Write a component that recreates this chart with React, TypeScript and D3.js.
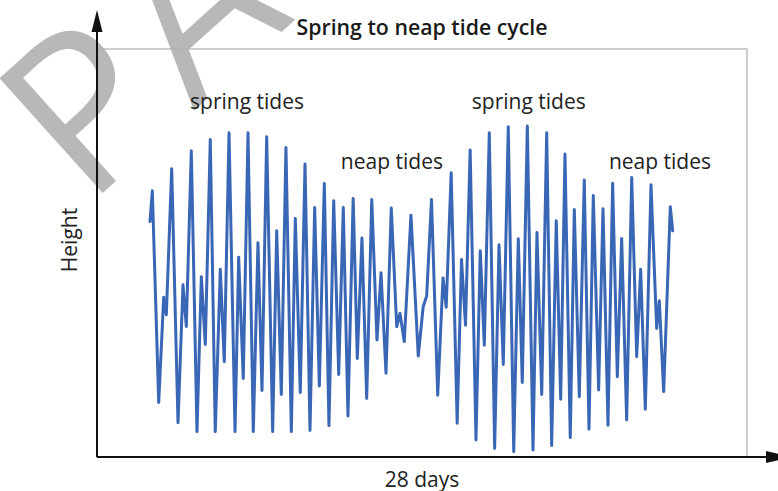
import React from "react";
import * as d3 from "d3";

// time in hours since start of record
const hours = [
  0, 3.0, 11.2, 17.6, 21.0, 27.9, 36.0, 42.4, 46.7, 53.1, 60.4, 66.0, 71.1, 77.5, 83.9, 90.4, 95.5,
  101.6, 109.3, 114.0, 119.9, 126.0, 132.8, 138.8, 144.0, 150.0, 157.7, 162.9, 168.8, 174.8, 181.7,
  186.8, 193.2, 199.3, 205.7, 211.7, 217.7, 224.1, 230.1, 236.2, 242.6, 248.5, 254.5, 261.2, 266.5,
  272.5, 278.6, 285.1, 291.8, 297.0, 303.4, 310.2, 317.2, 321.4, 326.9, 335.5, 344.9, 351.2, 355.7,
  361.9, 369.9, 376.7, 380.8, 387.2, 394.9, 400.5, 405.6, 411.6, 419.1, 424.6, 429.8, 436.2, 443.1,
  448.7, 454.2, 460.6, 467.6, 473.5, 478.6, 485.1, 492.4, 497.5, 503.6, 510.0, 516.4, 522.3, 528.0,
  533.5, 540.3, 545.5, 551.9, 558.3, 564.4, 569.9, 576.8, 582.4, 588.8, 594.8, 600.8, 606.4, 612.8,
  619.3, 625.7, 630.8, 636.8, 644.1, 651.4, 654.8, 660.4, 668.9, 672.0,
];

// tide height relative to mean level (m)
const heights = [
  1.71, 2.48, -2.81, -0.18, -0.62, 3.03, -3.32, 0.13, -0.91, 3.48, -3.54, 0.33, -1.36, 3.76, -3.54,
  0.52, -1.79, 3.93, -3.54, 0.82, -2.21, 3.93, -3.54, 1.18, -2.51, 3.83, -3.54, 1.48, -2.61, 3.56,
  -3.54, 1.79, -2.56, 3.15, -3.51, 2.06, -2.4, 2.66, -3.39, 2.23, -2.11, 2.06, -3.15, 2.29, -1.71,
  1.3, -2.71, 2.26, -1.25, 0.43, -2.08, 2.05, -0.92, -0.58, -1.29, 1.87, -1.65, -0.42, -0.15, 2.26,
  -2.63, 0.3, -0.43, 2.93, -3.33, 0.76, -0.88, 3.5, -3.75, 0.98, -1.38, 3.93, -3.96, 1.13, -1.86,
  4.08, -4.04, 1.28, -2.31, 4.1, -4.0, 1.44, -2.61, 3.93, -3.89, 1.73, -2.73, 3.4, -3.69, 2.01, -2.67,
  2.75, -3.48, 2.36, -2.5, 2.03, -3.38, 2.67, -2.17, 1.29, -3.25, 2.81, -1.67, 0.52, -2.98, 2.63,
  -0.96, -0.27, -2.54, 2.08, 1.48,
];

const title = "Spring to neap tide cycle";
const xLabel = "28 days";
const yLabel = "Height";
const annotations = [
  { text: "spring tides", hour: 124.7, h: 4.53 },
  { text: "spring tides", hour: 487, h: 4.53 },
  { text: "neap tides", hour: 311, h: 3.03 },
  { text: "neap tides", hour: 655.6, h: 3.03 },
];
const watermark = "PA";

const W = 778;
const H = 491;
const FONT = "'Open Sans', 'Noto Sans', sans-serif";

export default function App() {
  const plot = { left: 97, right: 747, top: 49, bottom: 457 };
  const x = d3.scaleLinear().domain([0, 672]).range([150, 672.7]);
  const y = d3.scaleLinear().domain([-4.2, 6.05]).range([458, 48]);
  const data = hours.map((t, i) => [t, heights[i]] as [number, number]);
  const line = d3
    .line<[number, number]>()
    .x((d) => x(d[0]))
    .y((d) => y(d[1]));

  const cx = (plot.left + plot.right) / 2;

  return (
    <svg
      width={W}
      height={H}
      style={{ position: "absolute", left: 0, top: 0, background: "#fff" }}
    >
      <text
        transform={`translate(87,207) rotate(-42)`}
        fontFamily={FONT}
        fontSize={216}
        fontWeight={500}
        letterSpacing={14}
        fill="#b8b8b8"
      >
        {watermark}
      </text>
      <rect
        x={plot.left}
        y={plot.top}
        width={plot.right - plot.left}
        height={plot.bottom - plot.top}
        fill="none"
        stroke="#b0b0b0"
        strokeWidth={1.2}
      />
      <text
        x={cx}
        y={35}
        textAnchor="middle"
        fontFamily={FONT}
        fontWeight={600}
        fontSize={21.3}
        fill="#1a1a1a"
      >
        {title}
      </text>
      {annotations.map((a, i) => (
        <text
          key={i}
          x={x(a.hour)}
          y={y(a.h)}
          textAnchor="middle"
          fontFamily={FONT}
          fontSize={21}
          fill="#222"
        >
          {a.text}
        </text>
      ))}
      <path
        d={line(data) || ""}
        fill="none"
        stroke="#3a67b5"
        strokeWidth={3}
        strokeLinejoin="round"
        strokeLinecap="round"
      />
      {/* axes */}
      <line x1={plot.left} y1={plot.bottom} x2={plot.left} y2={28} stroke="#111" strokeWidth={2} />
      <path d={`M${plot.left},10 L${plot.left - 5.5},32 L${plot.left + 5.5},32 Z`} fill="#111" />
      <line x1={plot.left} y1={plot.bottom} x2={770} y2={plot.bottom} stroke="#111" strokeWidth={2} />
      <path
        d={`M792,${plot.bottom} L766,${plot.bottom - 6} L766,${plot.bottom + 6} Z`}
        fill="#111"
      />
      <text
        x={cx}
        y={487}
        textAnchor="middle"
        fontFamily={FONT}
        fontSize={21}
        fill="#222"
      >
        {xLabel}
      </text>
      <text
        transform={`translate(77,${(plot.top + plot.bottom) / 2 - 13}) rotate(-90)`}
        textAnchor="middle"
        fontFamily={FONT}
        fontSize={21}
        fill="#222"
      >
        {yLabel}
      </text>
    </svg>
  );
}
